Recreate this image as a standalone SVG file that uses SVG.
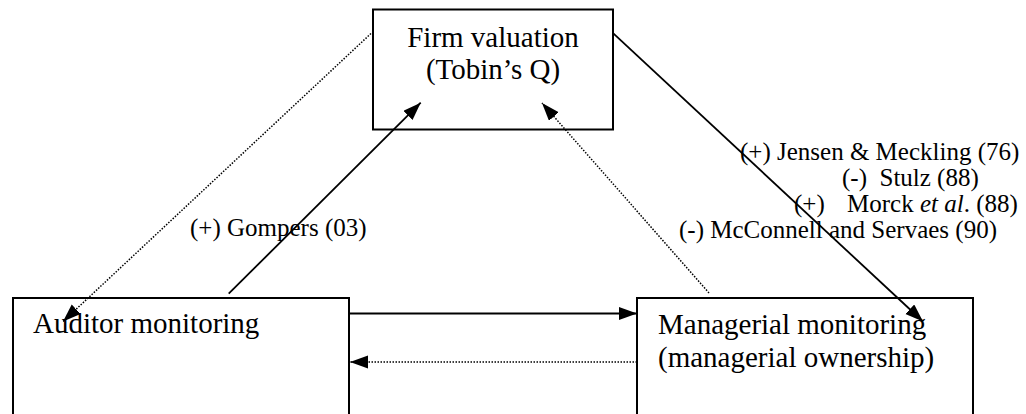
<svg xmlns="http://www.w3.org/2000/svg" width="1026" height="414" viewBox="0 0 1026 414">
<style>
.box{fill:#fff;stroke:#000;stroke-width:2}
.t{font-family:"Liberation Serif","Times New Roman",serif;font-size:29px;fill:#000}
.lbl{font-family:"Liberation Serif","Times New Roman",serif;font-size:25px;fill:#000}
.solid{fill:none;stroke:#000;stroke-width:1.8}
.dot{fill:none;stroke:#000;stroke-width:1.5;stroke-dasharray:1.5 1.5}
</style>
<defs>
<marker id="ah" markerUnits="userSpaceOnUse" markerWidth="20" markerHeight="14" refX="18" refY="6.5" orient="auto">
<path d="M0,0 L18,6.5 L0,13 z" fill="#000"/>
</marker>
</defs>
<rect width="1026" height="414" fill="#fff"/>
<g id="node-firm">
<rect class="box" x="373" y="9.5" width="240" height="120"/>
<text class="t" x="493" y="47" text-anchor="middle">Firm valuation</text>
<text class="t" x="493" y="79" text-anchor="middle">(Tobin’s Q)</text>
</g>
<g id="node-auditor">
<rect class="box" x="13" y="298" width="336" height="125"/>
<text class="t" x="33" y="333">Auditor monitoring</text>
</g>
<g id="node-managerial">
<rect class="box" x="637" y="298" width="336" height="125"/>
<text class="t" x="658" y="334">Managerial monitoring</text>
<text class="t" x="658" y="367">(managerial ownership)</text>
</g>
<g id="connectors">
<line class="solid" x1="228.7" y1="293.7" x2="420.7" y2="102.7" marker-end="url(#ah)"/>
<line class="solid" x1="613.3" y1="33.3" x2="923" y2="321.5" marker-end="url(#ah)"/>
<line class="dot" x1="371" y1="33.5" x2="63" y2="321.5" marker-end="url(#ah)"/>
<line class="dot" x1="709" y1="293" x2="542" y2="103" marker-end="url(#ah)"/>
<line class="solid" x1="349" y1="313.5" x2="637" y2="313.5" marker-end="url(#ah)"/>
<line class="dot" x1="637" y1="362" x2="350" y2="362" marker-end="url(#ah)"/>
</g>
<g id="labels">
<text class="lbl" x="190" y="236">(+) Gompers (03)</text>
<text class="lbl" x="740" y="160">(+) Jensen &amp; Meckling (76)</text>
<text class="lbl" x="842" y="186" xml:space="preserve">(-)  Stulz (88)</text>
<text class="lbl" y="212"><tspan x="794">(+)</tspan><tspan x="847">Morck <tspan font-style="italic">et al</tspan>. (88)</tspan></text>
<text class="lbl" x="679" y="238">(-) McConnell and Servaes (90)</text>
</g>
</svg>
